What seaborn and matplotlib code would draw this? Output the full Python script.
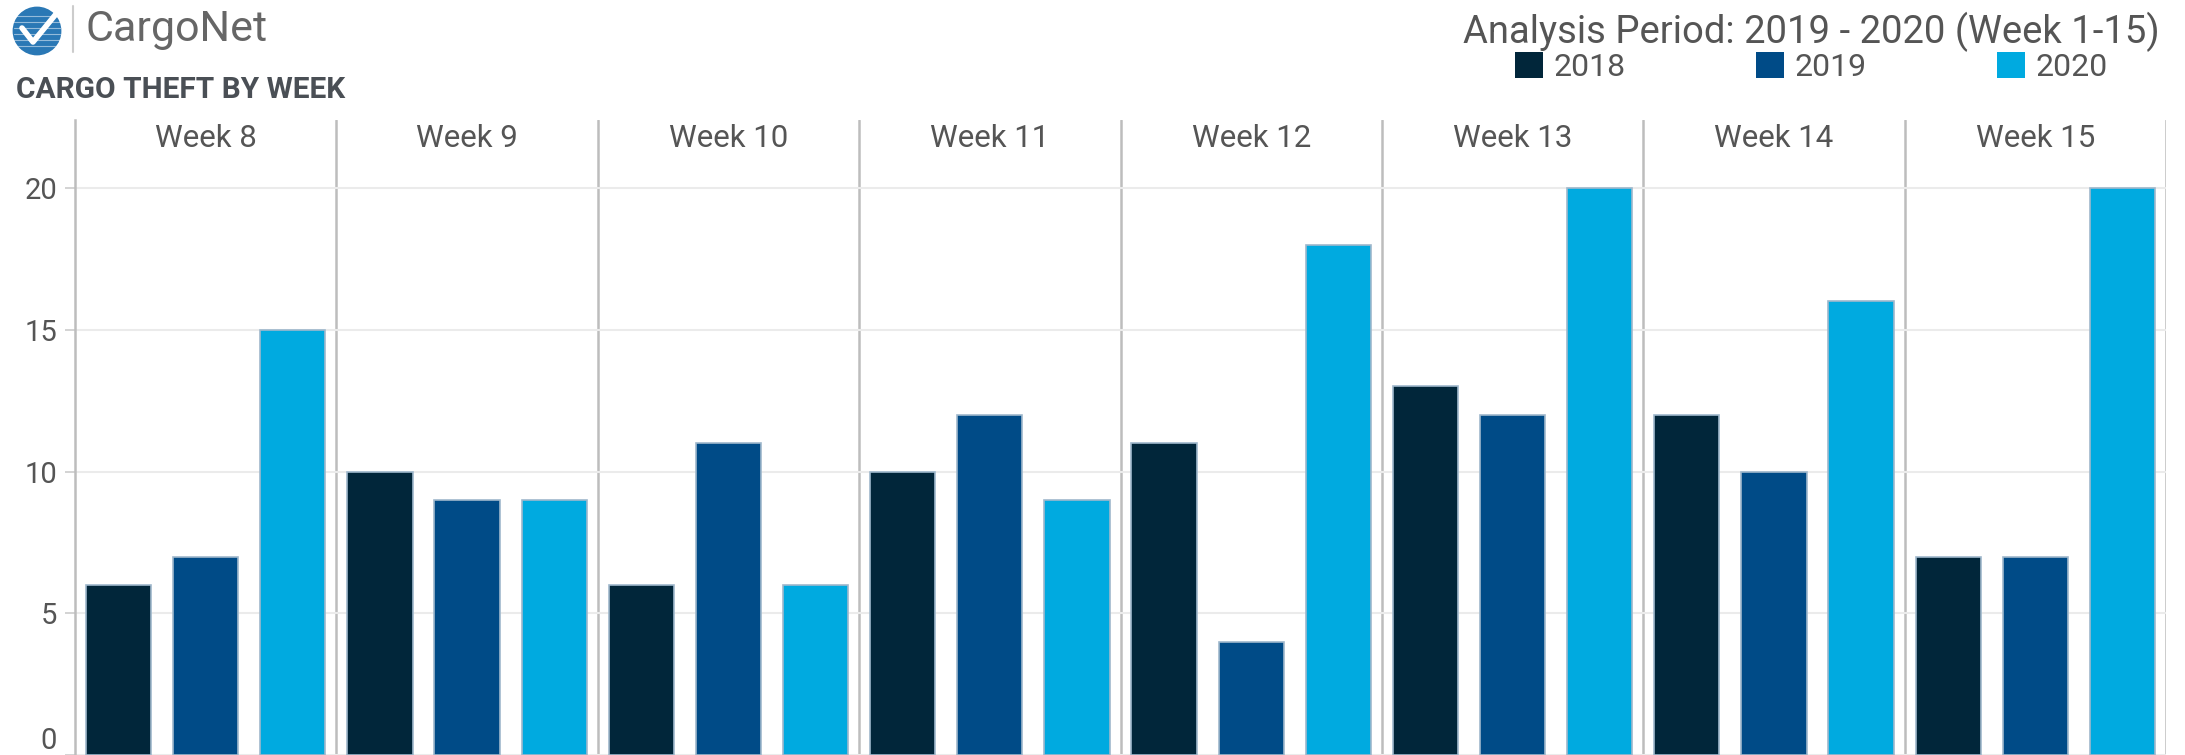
import pandas as pd
import matplotlib.pyplot as plt
import seaborn as sns
from matplotlib.patches import Circle, Patch

weeks = ['Week 8', 'Week 9', 'Week 10', 'Week 11', 'Week 12', 'Week 13', 'Week 14', 'Week 15']
years = ['2018', '2019', '2020']
thefts_2018 = [6, 10, 6, 10, 11, 13, 12, 7]
thefts_2019 = [7, 9, 11, 12, 4, 12, 10, 7]
thefts_2020 = [15, 9, 6, 9, 18, 20, 16, 20]
year_colors = ['#01263a', '#004b87', '#00aae0']

df = pd.DataFrame({
    'Week': weeks * 3,
    'Year': [y for y in years for _ in weeks],
    'Thefts': thefts_2018 + thefts_2019 + thefts_2020,
})

sns.set_style('white')
plt.rcParams['font.family'] = ['Roboto', 'DejaVu Sans']

W, H = 2185, 755
fig = plt.figure(figsize=(W / 100, H / 100), dpi=100)
ax = fig.add_axes([75 / W, 0, (2166 - 75) / W, 635 / H])

sns.barplot(data=df, x='Week', y='Thefts', hue='Year', palette=year_colors,
            width=1.0, gap=0.25, ax=ax, legend=False, linewidth=1.2,
            edgecolor='#9fb8cc', saturation=1)

ax.set_xlim(-0.5, 7.5)
ax.set_ylim(0, 22.4)
ax.set_yticks([0, 5, 10, 15, 20])
ax.set_xticks([])
ax.set_xlabel('')
ax.set_ylabel('')
ax.yaxis.grid(True, color='#ebebeb', linewidth=1.5)
ax.set_axisbelow(True)
for s in ['top', 'right', 'bottom']:
    ax.spines[s].set_visible(False)
ax.spines['left'].set_color('#bdbdbd')
ax.spines['left'].set_linewidth(1.8)
ax.tick_params(axis='y', length=7, width=1.2, color='#cccccc',
               labelsize=21, labelcolor='#555555', pad=6, left=True)
ax.yaxis.get_major_ticks()[0].label1.set_verticalalignment('bottom')

# panel dividers and week labels
for i, wk in enumerate(weeks):
    ax.axvline(i + 0.5, color='#bdbdbd', linewidth=1.8, zorder=0)
    ax.text(i, 21.75, wk, ha='center', va='center', fontsize=22.5, color='#555555')

# header
fig.text(2160 / W, 1 - 43 / H, 'Analysis Period: 2019 - 2020 (Week 1-15)',
         ha='right', va='baseline', fontsize=27.5, color='#555555')
handles = [Patch(facecolor=c, edgecolor='none') for c in year_colors]
fig.legend(handles, years, loc='center left', bbox_to_anchor=(1515 / W, 1 - 67 / H),
           ncol=3, frameon=False, fontsize=23, handlelength=0.88, handleheight=0.88,
           handletextpad=0.31, columnspacing=4.1, labelcolor='#555555',
           borderpad=0, borderaxespad=0)

fig.text(16 / W, 1 - 90 / H, 'CARGO THEFT BY WEEK', ha='left', va='center',
         fontsize=21.5, fontweight='bold', color='#4a4f55')

# logo
lax = fig.add_axes([0, 0, 1, 1], zorder=5)
lax.set_xlim(0, W)
lax.set_ylim(H, 0)
lax.axis('off')
lax.add_patch(Circle((37, 31), 23, color='#2a78b5'))
for yy in [16, 22, 28, 34, 40, 46]:
    lax.plot([14, 60], [yy, yy], color='white', linewidth=0.8, alpha=0.5)
lax.add_patch(Circle((37, 31), 23, fill=False, edgecolor='#2a78b5', linewidth=2))
lax.plot([22, 33, 56], [28, 42, 14], color='white', linewidth=4, solid_capstyle='round')
lax.plot([73, 73], [6, 52], color='#cccccc', linewidth=1.5)
lax.text(86, 30, 'CargoNet', ha='left', va='center', fontsize=31, color='#666666')

fig.savefig('out.png', dpi=100)
